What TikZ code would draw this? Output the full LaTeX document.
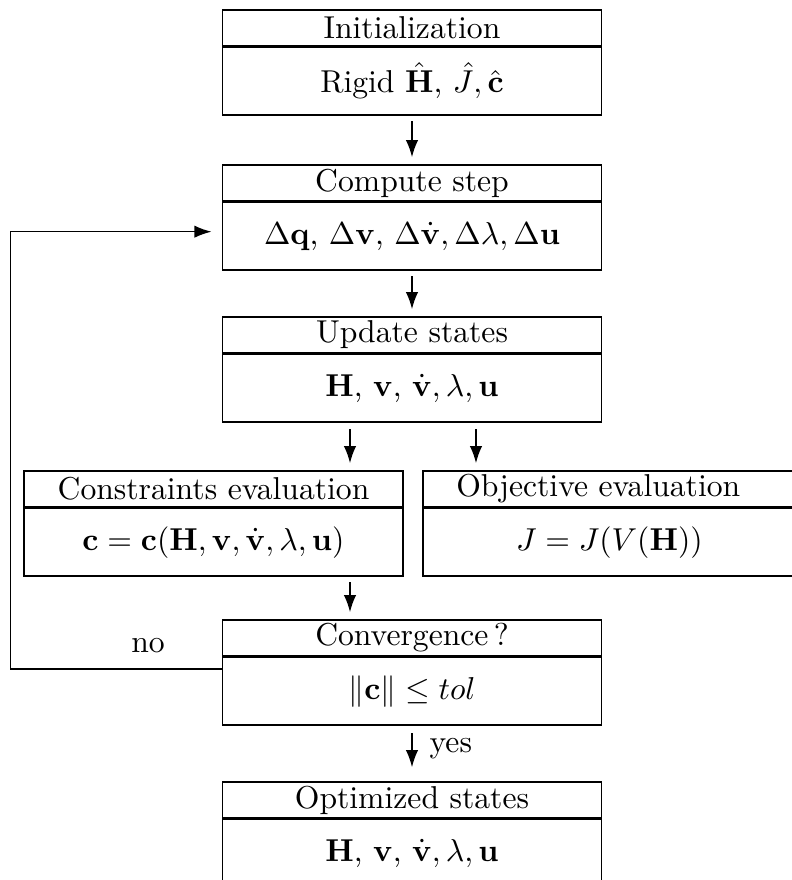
\documentclass[tikz,border=0pt]{standalone}
\usepackage{amsmath}
\usetikzlibrary{arrows.meta,calc}
\tikzset{
  stage/.style={draw, line width=0.5pt, minimum width=119.8pt, inner sep=0pt},
  hd/.style={stage, minimum height=11.4pt},
  bd/.style={stage, minimum height=21.2pt, anchor=north},
  arr/.style={-{Latex[length=5.4pt,width=3.9pt]}, line width=0.5pt},
  gap/.style={shorten <=1.8pt, shorten >=2.2pt},
  lbl/.style={inner sep=0pt}
}
\begin{document}
\begin{tikzpicture}[x=0.316pt,y=-0.316pt]
\path[use as bounding box, clip] (0,0) rectangle (792,880);

% stages: a title row above a content row
\node[hd] (init) at (412,28) {Initialization};
\node[bd] (initb) at (init.south) {Rigid $\hat{\mathbf{H}}$, $\hat{J}, \hat{\mathbf{c}}$};

\node[hd] (comp) at (412,183) {Compute step};
\node[bd] (compb) at (comp.south) {$\Delta\mathbf{q}$, $\Delta\mathbf{v}$, $\Delta\dot{\mathbf{v}}, \Delta\lambda, \Delta\mathbf{u}$};

\node[hd] (upd) at (412,335) {Update states};
\node[bd] (updb) at (upd.south) {$\mathbf{H}$, $\mathbf{v}$, $\dot{\mathbf{v}}, \lambda, \mathbf{u}$};

\node[hd] (cons) at (213.5,489) {Constraints evaluation};
\node[bd] (consb) at (cons.south) {$\mathbf{c} = \mathbf{c}(\mathbf{H}, \mathbf{v}, \dot{\mathbf{v}}, \lambda, \mathbf{u})$};

\node[hd] (obj) at (612.5,489) {Objective evaluation\hspace*{9pt}};
\node[bd] (objb) at (obj.south) {$J = J(V(\mathbf{H}))$\hspace*{2pt}};

\node[hd] (conv) at (412,638) {Convergence\,?};
\node[bd] (convb) at (conv.south) {$\|\mathbf{c}\| \leq tol$};

\node[hd] (opt) at (412,800) {Optimized states};
\node[bd] (optb) at (opt.south) {$\mathbf{H}$, $\mathbf{v}$, $\dot{\mathbf{v}}, \lambda, \mathbf{u}$};

% main flow
\draw[arr, gap] (initb.south) -- (comp.north);
\draw[arr, gap] (compb.south) -- (upd.north);

\coordinate (ua) at ($(updb.south)+(-62,0)$);
\coordinate (ub) at ($(updb.south)+(64,0)$);
\draw[arr, shorten <=2.2pt, shorten >=2.2pt] (ua) -- (ua |- cons.north);
\draw[arr, shorten <=2.2pt, shorten >=2.2pt] (ub) -- (ub |- obj.north);
\draw[arr, gap] (ua |- consb.south) -- (ua |- conv.north);

\draw[arr, shorten <=2.4pt, shorten >=4.4pt] (convb.south) -- (opt.north);
\node[lbl, anchor=base west] at (429,752) {yes};

% loop back when not converged
\coordinate (lp) at ($(convb.north west)+(0,12)$);
\draw[arr, shorten >=3.2pt] (lp) -- ++(-211,0) |- ($(compb.west)+(0,-4.5)$);
\node[lbl, anchor=base] at (148,652) {no};
\end{tikzpicture}
\end{document}
